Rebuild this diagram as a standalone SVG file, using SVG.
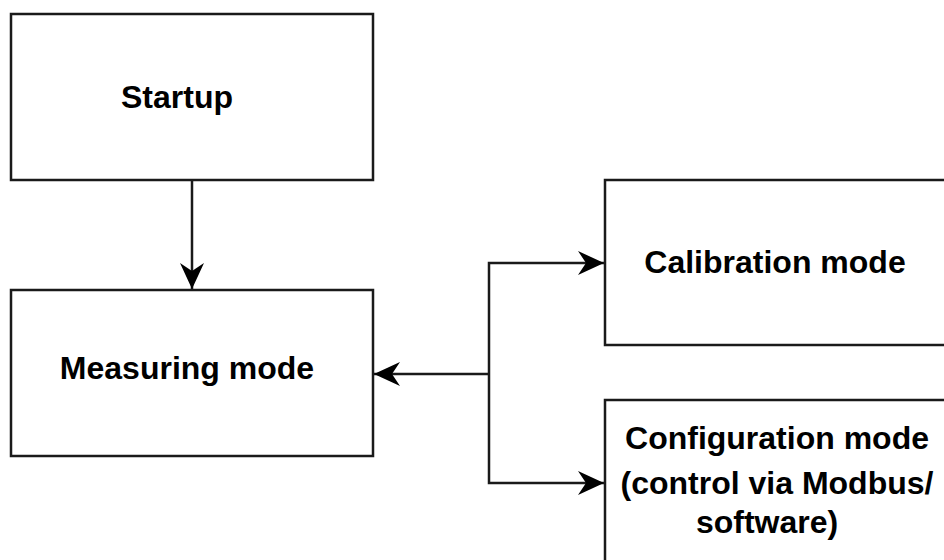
<svg xmlns="http://www.w3.org/2000/svg" width="944" height="560" viewBox="0 0 944 560">
<style>
.box{fill:#fff;stroke:#1a1a1a;stroke-width:2.5}
.lbl{font-family:"Liberation Sans",Arial,sans-serif;font-weight:bold;font-size:32px;fill:#000;text-anchor:middle}
.edge{fill:none;stroke:#1a1a1a;stroke-width:2.5}
</style>
<defs>
<marker id="arr" markerUnits="userSpaceOnUse" viewBox="0 0 26 24" markerWidth="26" markerHeight="24" refX="26" refY="12" orient="auto">
<path d="M0,0 L26,12 L0,24 L8,12 Z" fill="#000"/>
</marker>
</defs>
<rect width="944" height="560" fill="#fff"/>
<g id="startup"><rect class="box" x="11" y="14" width="362" height="166"/><text class="lbl" x="177" y="108">Startup</text></g>
<g id="measuring"><rect class="box" x="11" y="290" width="362" height="166"/><text class="lbl" x="187" y="379">Measuring mode</text></g>
<g id="calibration"><rect class="box" x="605" y="180" width="360" height="165"/><text class="lbl" x="775" y="273">Calibration mode</text></g>
<g id="configuration"><rect class="box" x="605" y="400" width="360" height="180"/><text class="lbl" x="777" y="449">Configuration mode</text><text class="lbl" x="777" y="494">(control via Modbus/</text><text class="lbl" x="767" y="533">software)</text></g>
<g id="connectors">
<path class="edge" d="M192,180 L192,289" marker-end="url(#arr)"/>
<path class="edge" d="M489,374 L374,374" marker-end="url(#arr)"/>
<path class="edge" d="M489,374 L489,263 L604,263" marker-end="url(#arr)"/>
<path class="edge" d="M489,374 L489,483 L604,483" marker-end="url(#arr)"/>
</g>
</svg>
